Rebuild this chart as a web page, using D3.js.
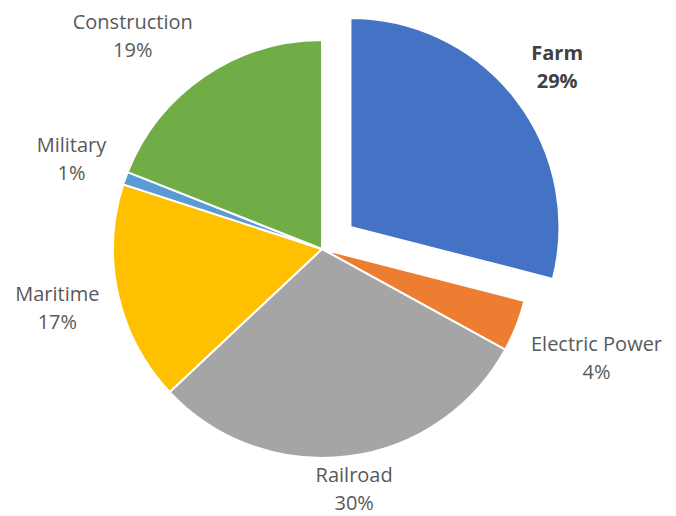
<!DOCTYPE html>
<html>
<head>
<meta charset="utf-8">
<script src="https://cdn.jsdelivr.net/npm/d3@7"></script>
<style>
  html, body { margin: 0; padding: 0; background: #fff; }
  svg { display: block; }
  text { font-family: "Open Sans", "Liberation Sans", sans-serif; font-size: 20px; fill: #595959; }
</style>
</head>
<body>
<svg id="chart" width="676" height="516"></svg>
<script>
// Employment share by sector (percent), clockwise from 12 o'clock
const categories = ["Farm", "Electric Power", "Railroad", "Maritime", "Military", "Construction"];
const shares = [29, 4, 30, 17, 1, 19];
const colors = ["#4472C4", "#ED7D31", "#A5A5A5", "#FFC000", "#5B9BD5", "#70AD47"];
const explodedCategories = ["Farm"];

const W = 676, H = 516;
const cx = 322, cy = 249, R = 209;
const explodeDist = 36;
const labelGap = 15;
const lineH = 28;
const topBound = 8, bottomBound = 517;

const svg = d3.select("#chart");
const g = svg.append("g").attr("transform", `translate(${cx},${cy})`);

const data = categories.map((c, i) => ({ category: c, value: shares[i], color: colors[i] }));
const pie = d3.pie().sort(null).value(d => d.value);
const arcs = pie(data);
const arc = d3.arc().innerRadius(0).outerRadius(R);

function offsetOf(d) {
  if (!explodedCategories.includes(d.data.category)) return [0, 0];
  const a = (d.startAngle + d.endAngle) / 2;
  return [Math.sin(a) * explodeDist, -Math.cos(a) * explodeDist];
}

g.selectAll("path.slice")
  .data(arcs)
  .join("path")
  .attr("class", "slice")
  .attr("d", arc)
  .attr("transform", d => `translate(${offsetOf(d)})`)
  .attr("fill", d => d.data.color)
  .attr("stroke", "#fff")
  .attr("stroke-width", 2)
  .attr("stroke-linejoin", "round");

// Outside-end data labels: box sits a fixed gap beyond the rim along the slice's mid-angle
const labels = g.selectAll("text.label")
  .data(arcs)
  .join("text")
  .attr("class", "label")
  .attr("text-anchor", "middle")
  .style("font-weight", d => explodedCategories.includes(d.data.category) ? "bold" : "normal")
  .style("fill", d => explodedCategories.includes(d.data.category) ? "#404040" : "#595959");

labels.append("tspan").attr("class", "l1").text(d => d.data.category);
labels.append("tspan").attr("class", "l2").text(d => d.data.value + "%");

labels.each(function (d) {
  const t = d3.select(this);
  const w = Math.max(t.select(".l1").node().getComputedTextLength(),
                     t.select(".l2").node().getComputedTextLength());
  const h = lineH * 2;
  const [ox, oy] = offsetOf(d);
  const place = a => {
    const ext = Math.abs(Math.sin(a)) * w / 2 + Math.abs(Math.cos(a)) * h / 2;
    const r = R + labelGap + ext;
    return [ox + Math.sin(a) * r, oy - Math.cos(a) * r];
  };
  let a = (d.startAngle + d.endAngle) / 2;
  let [x, y] = place(a);
  // rotate toward the horizontal while the box pokes above the top edge
  const step = Math.sin(a) < 0 ? -0.005 : 0.005;
  let guard = 0;
  while (cy + y - h / 2 < topBound && guard++ < 300) {
    a += Math.cos(a) > 0 ? step : -step;
    [x, y] = place(a);
  }
  // pull in while the box would fall below the bottom edge
  if (cy + y + h / 2 > bottomBound) y = bottomBound - h / 2 - cy;

  t.select(".l1").attr("x", x).attr("y", y - lineH / 2).attr("dy", "0.35em");
  t.select(".l2").attr("x", x).attr("y", y + lineH / 2).attr("dy", "0.35em");
});
</script>
</body>
</html>
